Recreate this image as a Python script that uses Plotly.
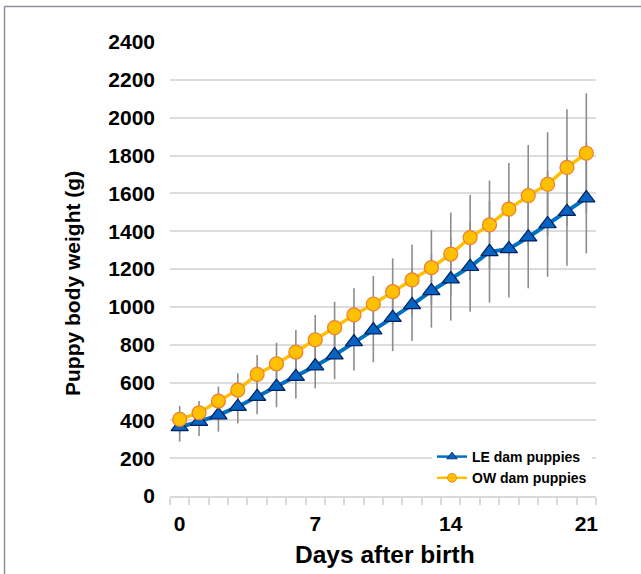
import plotly.graph_objects as go

days = list(range(22))
ow_mean = [405, 440, 502, 560, 643, 699, 761, 826, 890, 957, 1015, 1080, 1142, 1207, 1279, 1366, 1433, 1516, 1588, 1648, 1737, 1812]
ow_sd = [71, 62, 76, 89, 102, 111, 116, 131, 137, 141, 148, 176, 188, 198, 219, 225, 234, 244, 267, 275, 307, 317]
le_mean = [365, 393, 428, 472, 525, 578, 631, 687, 745, 814, 877, 943, 1010, 1084, 1147, 1212, 1291, 1306, 1368, 1438, 1503, 1575]
le_sd = [78, 76, 88, 88, 93, 109, 115, 118, 128, 150, 170, 177, 191, 194, 220, 238, 269, 256, 270, 279, 286, 292]
x_ticks = [0, 7, 14, 21]
y_ticks = list(range(0, 2401, 200))
names = ["LE dam puppies", "OW dam puppies"]

FONT = "Liberation Sans, Arial, sans-serif"
ERR = "#8c8c8c"
LE_LINE, LE_FILL, LE_EDGE = "#0070C0", "#0563C1", "#002060"
OW_LINE, OW_FILL, OW_EDGE = "#FFC000", "#FFC000", "#ED7D31"

fig = go.Figure()
# error bars underneath
for m, s in [(le_mean, le_sd), (ow_mean, ow_sd)]:
    fig.add_trace(go.Scatter(x=days, y=m, mode="markers", marker=dict(size=1, opacity=0),
                             error_y=dict(type="data", array=s, visible=True, color=ERR, thickness=1.6, width=0),
                             showlegend=False, hoverinfo="skip"))

fig.add_trace(go.Scatter(x=days, y=le_mean, mode="lines+markers", name=names[0], showlegend=False,
                         line=dict(color=LE_LINE, width=4),
                         marker=dict(symbol="triangle-up", size=15, color=LE_FILL,
                                     line=dict(color=LE_EDGE, width=1.2))))
fig.add_trace(go.Scatter(x=days, y=ow_mean, mode="lines+markers", name=names[1], showlegend=False,
                         line=dict(color=OW_LINE, width=3.5),
                         marker=dict(symbol="circle", size=14, color=OW_FILL,
                                     line=dict(color=OW_EDGE, width=1.2))))

# legend entries with smaller symbols, as in the reference
fig.add_trace(go.Scatter(x=[None], y=[None], mode="lines+markers", name=names[0],
                         line=dict(color=LE_LINE, width=2.5),
                         marker=dict(symbol="triangle-up", size=9, color=LE_FILL,
                                     line=dict(color=LE_EDGE, width=0.8))))
fig.add_trace(go.Scatter(x=[None], y=[None], mode="lines+markers", name=names[1],
                         line=dict(color=OW_LINE, width=2.5),
                         marker=dict(symbol="circle", size=9, color=OW_FILL,
                                     line=dict(color=OW_EDGE, width=0.8))))

L, T, R, B = 170, 42, 45, 78
W, H = 641, 574
pw, ph = W - L - R, H - T - B

def px(xp):
    return (xp - L) / pw

def py(yp):
    return (H - B - yp) / ph

fig.update_layout(
    width=W, height=H,
    margin=dict(l=L, r=R, t=T, b=B),
    paper_bgcolor="white", plot_bgcolor="white",
    font=dict(family=FONT, color="black"),
    showlegend=True,
    legend=dict(x=px(432), y=py(441), xanchor="left", yanchor="top",
                bgcolor="white", font=dict(size=14, family=FONT, color="black", weight="bold"),
                itemwidth=30, tracegroupgap=0),
    xaxis=dict(range=[-0.5, 21.5], tickvals=x_ticks, ticktext=[str(v) for v in x_ticks],
               showgrid=False, zeroline=False, showline=True, linecolor="#d9d9d9", linewidth=2,
               ticks="", tickfont=dict(size=21, family=FONT, color="black", weight="bold"),
               ticklabelstandoff=8,
               minor=dict(ticks="outside", tick0=-0.5, dtick=1, ticklen=7, tickcolor="#d9d9d9",
                          tickwidth=1.5, showgrid=False)),
    yaxis=dict(range=[0, 2400], tickvals=y_ticks, showgrid=True, gridcolor="#dcdcdc", gridwidth=1.8,
               zeroline=False, showline=False, ticks="",
               tickfont=dict(size=21, family=FONT, color="black", weight="bold"),
               ticklabelstandoff=14),
    annotations=[
        dict(text="Days after birth", x=px(385), y=py(554), xref="paper", yref="paper",
             xanchor="center", yanchor="middle", showarrow=False,
             font=dict(size=24.5, family=FONT, color="black", weight="bold")),
        dict(text="Puppy body weight (g)", x=px(72), y=py(284), xref="paper", yref="paper",
             xanchor="center", yanchor="middle", showarrow=False, textangle=-90,
             font=dict(size=21, family=FONT, color="black", weight="bold")),
    ],
    shapes=[
        dict(type="line", xref="paper", yref="paper", x0=px(4.5), x1=px(4.5), y0=py(6.5), y1=py(600),
             line=dict(color="#8a8f99", width=1.5)),
        dict(type="line", xref="paper", yref="paper", x0=px(4.5), x1=px(660), y0=py(6.5), y1=py(6.5),
             line=dict(color="#8a8f99", width=1.5)),
    ],
)

fig.write_html("out.html")
